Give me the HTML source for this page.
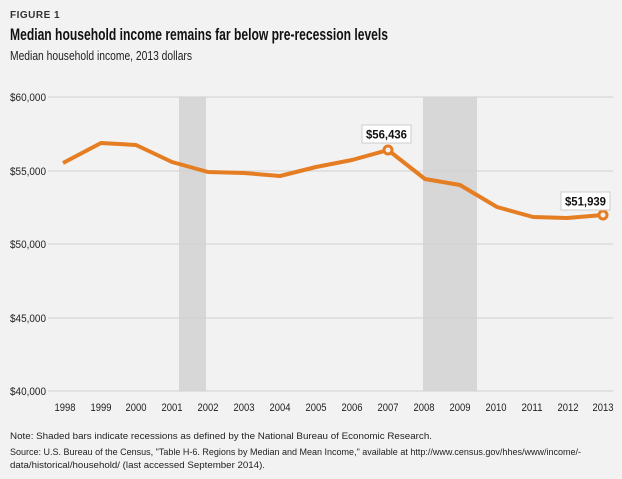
<!DOCTYPE html>
<html><head><style>
body{margin:0;width:622px;height:479px;background:#f2f2f2;font-family:"Liberation Sans",sans-serif;overflow:hidden;}
svg{position:absolute;left:0;top:0}
</style></head><body>
<svg width="622" height="479" viewBox="0 0 622 479" xmlns="http://www.w3.org/2000/svg">
<rect width="622" height="479" fill="#f2f2f2"/>
<text x="10" y="18" font-size="10" font-weight="bold" fill="#333" letter-spacing="0.5">FIGURE 1</text>
<text x="10" y="40" font-size="16.5" font-weight="bold" fill="#111" textLength="378" lengthAdjust="spacingAndGlyphs">Median household income remains far below pre-recession levels</text>
<text x="10" y="60" font-size="12.5" fill="#222" textLength="182" lengthAdjust="spacingAndGlyphs">Median household income, 2013 dollars</text>
<rect x="179" y="97" width="27" height="294" fill="#d7d7d7"/>
<rect x="423" y="97" width="54" height="294" fill="#d7d7d7"/>
<g stroke="#d0d0d0" stroke-width="1">
<line x1="48" y1="97" x2="613" y2="97"/>
<line x1="48" y1="171" x2="613" y2="171"/>
<line x1="48" y1="244" x2="613" y2="244"/>
<line x1="48" y1="318" x2="613" y2="318"/>
<line x1="48" y1="391" x2="613" y2="391"/>
</g>
<g font-size="11" fill="#222">
<text x="10" y="101" textLength="36" lengthAdjust="spacingAndGlyphs">$60,000</text>
<text x="10" y="175" textLength="36" lengthAdjust="spacingAndGlyphs">$55,000</text>
<text x="10" y="248" textLength="36" lengthAdjust="spacingAndGlyphs">$50,000</text>
<text x="10" y="322" textLength="36" lengthAdjust="spacingAndGlyphs">$45,000</text>
<text x="10" y="395" textLength="36" lengthAdjust="spacingAndGlyphs">$40,000</text>
</g>
<g font-size="11" fill="#222">
<text x="54.5" y="411" textLength="21" lengthAdjust="spacingAndGlyphs">1998</text><text x="90.5" y="411" textLength="21" lengthAdjust="spacingAndGlyphs">1999</text><text x="125.5" y="411" textLength="21" lengthAdjust="spacingAndGlyphs">2000</text><text x="161.5" y="411" textLength="21" lengthAdjust="spacingAndGlyphs">2001</text><text x="197.5" y="411" textLength="21" lengthAdjust="spacingAndGlyphs">2002</text><text x="233.5" y="411" textLength="21" lengthAdjust="spacingAndGlyphs">2003</text><text x="269.5" y="411" textLength="21" lengthAdjust="spacingAndGlyphs">2004</text><text x="305.5" y="411" textLength="21" lengthAdjust="spacingAndGlyphs">2005</text><text x="341.5" y="411" textLength="21" lengthAdjust="spacingAndGlyphs">2006</text><text x="377.5" y="411" textLength="21" lengthAdjust="spacingAndGlyphs">2007</text><text x="413.5" y="411" textLength="21" lengthAdjust="spacingAndGlyphs">2008</text><text x="449.5" y="411" textLength="21" lengthAdjust="spacingAndGlyphs">2009</text><text x="485.5" y="411" textLength="21" lengthAdjust="spacingAndGlyphs">2010</text><text x="521.5" y="411" textLength="21" lengthAdjust="spacingAndGlyphs">2011</text><text x="557.5" y="411" textLength="21" lengthAdjust="spacingAndGlyphs">2012</text><text x="592.5" y="411" textLength="21" lengthAdjust="spacingAndGlyphs">2013</text>
</g>
<polyline fill="none" stroke="#e57d22" stroke-width="4" stroke-linejoin="round" points="63,163 101,143 136,145 172,162 208,172 244,173 280,176 316,167 352,160 388,150 425,179 460,185 497,207 533,217 567,218 603,215"/>
<circle cx="388" cy="150" r="4" fill="#f2f2f2" stroke="#e57d22" stroke-width="3"/>
<circle cx="603" cy="215" r="4" fill="#f2f2f2" stroke="#e57d22" stroke-width="3"/>
<rect x="362" y="125" width="49" height="18" fill="#fff" stroke="#ccc"/>
<text x="366" y="138.5" font-size="12" font-weight="bold" fill="#111" textLength="41" lengthAdjust="spacingAndGlyphs">$56,436</text>
<rect x="561" y="192" width="49" height="18" fill="#fff" stroke="#ccc"/>
<text x="565" y="205.5" font-size="12" font-weight="bold" fill="#111" textLength="41" lengthAdjust="spacingAndGlyphs">$51,939</text>
<g font-size="9" fill="#222">
<text x="10" y="439" textLength="422" lengthAdjust="spacingAndGlyphs">Note: Shaded bars indicate recessions as defined by the National Bureau of Economic Research.</text>
<text x="10" y="455" textLength="571" lengthAdjust="spacingAndGlyphs">Source: U.S. Bureau of the Census, "Table H-6. Regions by Median and Mean Income," available at http://www.census.gov/hhes/www/income/-</text>
<text x="10" y="468" textLength="255" lengthAdjust="spacingAndGlyphs">data/historical/household/ (last accessed September 2014).</text>
</g>
</svg>
</body></html>
